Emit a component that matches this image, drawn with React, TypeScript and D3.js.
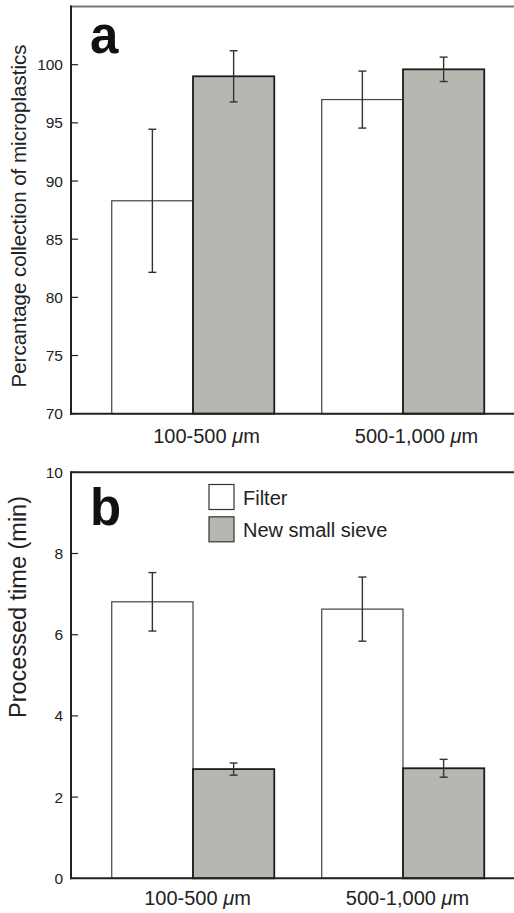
import React from "react";
import * as d3 from "d3";

// size classes on the x axis
const groups = ["100-500", "500-1,000"];
const series = ["Filter", "New small sieve"];

// panel a: percentage collection
const filterRecovery = [88.3, 97.0];
const filterRecoveryErr = [6.15, 2.45];
const sieveRecovery = [99.0, 99.6];
const sieveRecoveryErr = [2.2, 1.05];
const recoveryTicks = [70, 75, 80, 85, 90, 95, 100];

// panel b: processed time (min)
const filterTime = [6.81, 6.63];
const filterTimeErr = [0.72, 0.79];
const sieveTime = [2.69, 2.71];
const sieveTimeErr = [0.15, 0.22];
const timeTicks = [0, 2, 4, 6, 8, 10];

const W = 514;
const H = 913;
const FONT = "'Liberation Sans', Arial, Helvetica, sans-serif";
const GREY = "#b5b7b1";

const x0 = d3.scaleBand<string>().domain(groups).range([71, 525]).paddingInner(0.226).paddingOuter(0.194);
const x1 = d3.scaleBand<string>().domain(series).range([0, x0.bandwidth()]).padding(0);

type PanelProps = {
  letter: string;
  title: string;
  titleY: number;
  titleSize: number;
  domain: [number, number];
  range: [number, number];
  ticks: number[];
  values: number[][];
  errors: number[][];
  labelY: number;
  labelShift: number;
  frameColor: string;
  letterY: number;
  legend?: boolean;
};

function Panel(p: PanelProps) {
  const y = d3.scaleLinear().domain(p.domain).range(p.range);
  const [yb, yt] = p.range;
  return (
    <g>
      {/* bars */}
      {groups.map((g, gi) => (
        <g key={g} transform={`translate(${x0(g)},0)`}>
          {series.map((s, si) => {
            const v = p.values[si][gi];
            const e = p.errors[si][gi];
            const bx = x1(s)!;
            const cx = bx + x1.bandwidth() / 2;
            return (
              <g key={s}>
                <rect
                  x={bx}
                  y={y(v)}
                  width={x1.bandwidth()}
                  height={yb - y(v)}
                  fill={si === 0 ? "#fff" : GREY}
                  stroke={si === 0 ? "#444" : "#1c1c1c"}
                  strokeWidth={si === 0 ? 1.2 : 1.8}
                />
                <line x1={cx} x2={cx} y1={y(v + e)} y2={y(v - e)} stroke="#333" strokeWidth={1.4} />
                <line x1={cx - 4} x2={cx + 4} y1={y(v + e)} y2={y(v + e)} stroke="#333" strokeWidth={1.4} />
                <line x1={cx - 4} x2={cx + 4} y1={y(v - e)} y2={y(v - e)} stroke="#333" strokeWidth={1.4} />
              </g>
            );
          })}
        </g>
      ))}

      {/* frame */}
      <line x1={71} x2={W} y1={yt} y2={yt} stroke={p.frameColor} strokeWidth={2} />
      <line x1={71} x2={71} y1={yt - 1} y2={yb + 1} stroke="#222" strokeWidth={2} />
      <line x1={70} x2={W} y1={yb} y2={yb} stroke="#222" strokeWidth={2} />

      {/* y ticks */}
      {p.ticks.map((t) => (
        <g key={t} transform={`translate(71,${y(t)})`}>
          <line x1={0} x2={7} stroke="#222" strokeWidth={1.2} />
          <text x={-8} dy="0.36em" textAnchor="end" fontSize={15.5} fill="#222">
            {t}
          </text>
        </g>
      ))}

      {/* x labels */}
      {groups.map((g) => (
        <text
          key={g}
          x={x0(g)! + x0.bandwidth() / 2 + p.labelShift}
          y={p.labelY}
          textAnchor="middle"
          fontSize={20}
          fill="#222"
        >
          {g} <tspan fontStyle="italic">μ</tspan>m
        </text>
      ))}

      {/* y title */}
      <text
        transform={`translate(26,${p.titleY}) rotate(-90)`}
        textAnchor="middle"
        fontSize={p.titleSize}
        fill="#222"
      >
        {p.title}
      </text>

      {/* panel letter */}
      <text x={90} y={p.letterY} fontSize={51} fontWeight="bold" fill="#111">
        {p.letter}
      </text>

      {p.legend &&
        series.map((s, si) => (
          <g key={s} transform={`translate(209,${484.5 + si * 32.3})`}>
            <rect width={25} height={25} fill={si === 0 ? "#fff" : GREY} stroke="#333" strokeWidth={1.2} />
            <text x={34} y={20.5} fontSize={20} fill="#222">
              {s}
            </text>
          </g>
        ))}
    </g>
  );
}

export default function App() {
  return (
    <svg
      width={W}
      height={H}
      style={{ position: "absolute", left: 0, top: 0, background: "#fff" }}
      fontFamily={FONT}
    >
      <Panel
        letter="a"
        title="Percantage collection of microplastics"
        titleY={216}
        titleSize={20.5}
        domain={[70, 105]}
        range={[413.7, 6.5]}
        ticks={recoveryTicks}
        values={[filterRecovery, sieveRecovery]}
        errors={[filterRecoveryErr, sieveRecoveryErr]}
        labelY={443}
        labelShift={13.5}
        frameColor="#777"
        letterY={53}
      />
      <Panel
        letter="b"
        title="Processed time (min)"
        titleY={607}
        titleSize={23.5}
        domain={[0, 10]}
        range={[878.3, 472.3]}
        ticks={timeTicks}
        values={[filterTime, sieveTime]}
        errors={[filterTimeErr, sieveTimeErr]}
        labelY={905}
        labelShift={4.5}
        frameColor="#222"
        letterY={525}
        legend
      />
    </svg>
  );
}
